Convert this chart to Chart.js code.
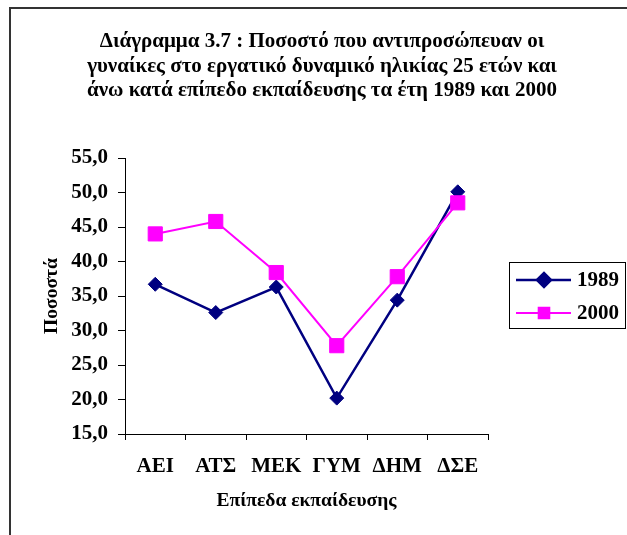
<!DOCTYPE html>
<html>
<head>
<meta charset="utf-8">
<script src="https://cdn.jsdelivr.net/npm/chart.js@4.4.0/dist/chart.umd.min.js"></script>
<style>
    html, body { margin: 0; padding: 0; background: #fff; overflow: hidden; }
    #frame { position: absolute; left: 9px; top: 7px; width: 700px; height: 600px; border-left: 2px solid #333; border-top: 2px solid #333; }
    #wrap { position: absolute; left: 0; top: 0; width: 627px; height: 535px; }
</style>
</head>
<body>
<div id="frame"></div>
<div id="wrap"><canvas id="chart" width="627" height="535"></canvas></div>
<script>
const titleLines = [
    'Διάγραμμα 3.7 : Ποσοστό που αντιπροσώπευαν οι',
    'γυναίκες στο εργατικό δυναμικό ηλικίας 25 ετών και',
    'άνω κατά επίπεδο εκπαίδευσης τα έτη 1989 και 2000'
];
const categories = ['ΑΕΙ', 'ΑΤΣ', 'ΜΕΚ', 'ΓΥΜ', 'ΔΗΜ', 'ΔΣΕ'];
const seriesNames = ['1989', '2000'];
const values1989 = [36.7, 32.6, 36.3, 20.2, 34.4, 50.1];
const values2000 = [44.0, 45.8, 38.4, 27.8, 37.8, 48.5];
const yMin = 15, yMax = 55, yStep = 5;

const FONT = "'Liberation Serif', 'Times New Roman', serif";

// title + framed legend drawn on top of the chart
const extras = {
    id: 'extras',
    afterDraw(chart) {
        const ctx = chart.ctx;
        ctx.save();
        ctx.fillStyle = '#000';
        ctx.font = 'bold 21px ' + FONT;
        ctx.textAlign = 'center';
        ctx.textBaseline = 'middle';
        titleLines.forEach((t, i) => ctx.fillText(t, 322, 42 + i * 24.5));

        // legend box
        ctx.strokeStyle = '#000';
        ctx.lineWidth = 1;
        ctx.strokeRect(509.5, 262.5, 116, 66);
        ctx.font = 'bold 21px ' + FONT;
        ctx.textAlign = 'left';
        chart.data.datasets.forEach((ds, i) => {
            const y = 280 + i * 33;
            ctx.strokeStyle = ds.borderColor;
            ctx.lineWidth = ds.borderWidth;
            ctx.beginPath();
            ctx.moveTo(516, y);
            ctx.lineTo(571, y);
            ctx.stroke();
            ctx.fillStyle = ds.pointBackgroundColor;
            ctx.strokeStyle = ds.pointBorderColor;
            Chart.helpers.drawPoint(ctx, {
                pointStyle: ds.pointStyle,
                radius: ds.pointStyle === 'rect' ? 7.5 : 7,
                rotation: 0,
                borderWidth: 1
            }, 544, y);
            ctx.fillStyle = '#000';
            ctx.fillText(ds.label, 577, y + 1);
        });
        ctx.restore();
    }
};

new Chart(document.getElementById('chart'), {
    type: 'line',
    data: {
        labels: categories,
        datasets: [
            {
                label: seriesNames[0],
                data: values1989,
                borderColor: '#000080',
                borderWidth: 2.5,
                pointStyle: 'rectRot',
                pointRadius: 7,
                pointBackgroundColor: '#000080',
                pointBorderColor: '#000080',
                pointBorderWidth: 1,
                tension: 0,
                order: 2
            },
            {
                label: seriesNames[1],
                data: values2000,
                borderColor: '#FF00FF',
                borderWidth: 2,
                pointStyle: 'rect',
                pointRadius: 10,
                pointBackgroundColor: '#FF00FF',
                pointBorderColor: '#FF00FF',
                pointBorderWidth: 1,
                tension: 0,
                order: 1
            }
        ]
    },
    options: {
        responsive: false,
        animation: false,
        layout: { padding: { top: 158, right: 139, left: 0, bottom: 0 } },
        plugins: {
            legend: { display: false },
            title: { display: false },
            tooltip: { enabled: false }
        },
        scales: {
            x: {
                offset: true,
                afterFit: s => { s.height = 101; },
                grid: { offset: true, drawOnChartArea: false, drawTicks: true, tickLength: 6, color: '#000' },
                border: { display: true, color: '#000', width: 1 },
                ticks: { color: '#000', padding: 14, font: { family: FONT, size: 21, weight: 'bold' } },
                title: {
                    display: true,
                    text: 'Επίπεδα εκπαίδευσης',
                    color: '#000',
                    font: { family: FONT, size: 19.5, weight: 'bold' },
                    padding: { bottom: 22 }
                }
            },
            y: {
                min: yMin,
                max: yMax,
                afterFit: s => { s.width = 125; },
                grid: { drawOnChartArea: false, drawTicks: true, tickLength: 7, color: '#000' },
                border: { display: true, color: '#000', width: 1 },
                ticks: {
                    stepSize: yStep,
                    color: '#000',
                    padding: 10,
                    font: { family: FONT, size: 21, weight: 'bold' },
                    callback: v => v.toFixed(1).replace('.', ',')
                },
                title: {
                    display: true,
                    text: 'Ποσοστά',
                    color: '#000',
                    font: { family: FONT, size: 19.5, weight: 'bold' },
                    padding: { top: 40 }
                }
            }
        }
    },
    plugins: [extras]
});
</script>
</body>
</html>
